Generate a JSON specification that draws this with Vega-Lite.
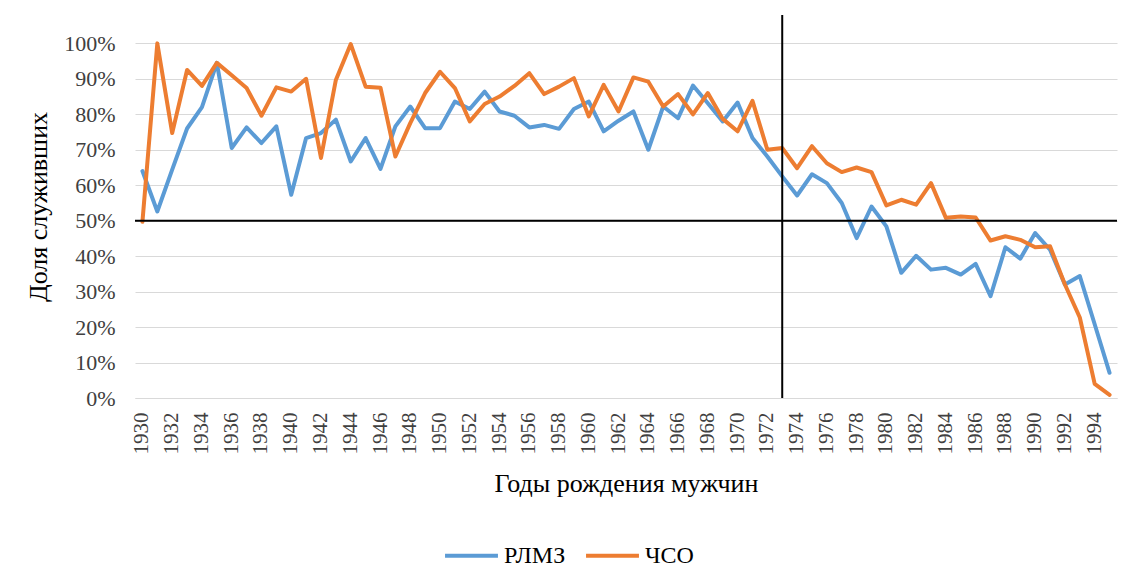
{
  "$schema": "https://vega.github.io/schema/vega-lite/v6.json",
  "width": 982,
  "height": 383,
  "autosize": {"type": "none"},
  "padding": {"left": 135, "top": 15, "right": 10, "bottom": 187},
  "background": "white",
  "config": {
    "font": "Liberation Serif",
    "view": {"stroke": null},
    "axis": {"labelFont": "Liberation Serif", "titleFont": "Liberation Serif", "labelColor": "#404040", "titleColor": "#000000", "titleFontWeight": "normal"},
    "legend": {"labelFont": "Liberation Serif"}
  },
  "datasets": {
    "main": [
      {"year": 1930, "series": "РЛМЗ", "value": 64.0}, {"year": 1931, "series": "РЛМЗ", "value": 52.6}, {"year": 1932, "series": "РЛМЗ", "value": 64.4}, {"year": 1933, "series": "РЛМЗ", "value": 76.0}, {"year": 1934, "series": "РЛМЗ", "value": 82.0}, {"year": 1935, "series": "РЛМЗ", "value": 94.5}, {"year": 1936, "series": "РЛМЗ", "value": 70.5}, {"year": 1937, "series": "РЛМЗ", "value": 76.3}, {"year": 1938, "series": "РЛМЗ", "value": 71.9}, {"year": 1939, "series": "РЛМЗ", "value": 76.6},
      {"year": 1940, "series": "РЛМЗ", "value": 57.3}, {"year": 1941, "series": "РЛМЗ", "value": 73.3}, {"year": 1942, "series": "РЛМЗ", "value": 74.7}, {"year": 1943, "series": "РЛМЗ", "value": 78.5}, {"year": 1944, "series": "РЛМЗ", "value": 66.7}, {"year": 1945, "series": "РЛМЗ", "value": 73.3}, {"year": 1946, "series": "РЛМЗ", "value": 64.6}, {"year": 1947, "series": "РЛМЗ", "value": 76.6}, {"year": 1948, "series": "РЛМЗ", "value": 82.2}, {"year": 1949, "series": "РЛМЗ", "value": 76.1},
      {"year": 1950, "series": "РЛМЗ", "value": 76.1}, {"year": 1951, "series": "РЛМЗ", "value": 83.6}, {"year": 1952, "series": "РЛМЗ", "value": 81.5}, {"year": 1953, "series": "РЛМЗ", "value": 86.4}, {"year": 1954, "series": "РЛМЗ", "value": 80.8}, {"year": 1955, "series": "РЛМЗ", "value": 79.6}, {"year": 1956, "series": "РЛМЗ", "value": 76.3}, {"year": 1957, "series": "РЛМЗ", "value": 77.0}, {"year": 1958, "series": "РЛМЗ", "value": 75.9}, {"year": 1959, "series": "РЛМЗ", "value": 81.5},
      {"year": 1960, "series": "РЛМЗ", "value": 83.6}, {"year": 1961, "series": "РЛМЗ", "value": 75.2}, {"year": 1962, "series": "РЛМЗ", "value": 78.2}, {"year": 1963, "series": "РЛМЗ", "value": 80.8}, {"year": 1964, "series": "РЛМЗ", "value": 70.0}, {"year": 1965, "series": "РЛМЗ", "value": 82.2}, {"year": 1966, "series": "РЛМЗ", "value": 78.9}, {"year": 1967, "series": "РЛМЗ", "value": 88.1}, {"year": 1968, "series": "РЛМЗ", "value": 83.1}, {"year": 1969, "series": "РЛМЗ", "value": 78.0},
      {"year": 1970, "series": "РЛМЗ", "value": 83.3}, {"year": 1971, "series": "РЛМЗ", "value": 73.3}, {"year": 1972, "series": "РЛМЗ", "value": 68.1}, {"year": 1973, "series": "РЛМЗ", "value": 62.5}, {"year": 1974, "series": "РЛМЗ", "value": 57.1}, {"year": 1975, "series": "РЛМЗ", "value": 63.1}, {"year": 1976, "series": "РЛМЗ", "value": 60.6}, {"year": 1977, "series": "РЛМЗ", "value": 55.0}, {"year": 1978, "series": "РЛМЗ", "value": 45.1}, {"year": 1979, "series": "РЛМЗ", "value": 54.0},
      {"year": 1980, "series": "РЛМЗ", "value": 48.4}, {"year": 1981, "series": "РЛМЗ", "value": 35.3}, {"year": 1982, "series": "РЛМЗ", "value": 40.1}, {"year": 1983, "series": "РЛМЗ", "value": 36.2}, {"year": 1984, "series": "РЛМЗ", "value": 36.7}, {"year": 1985, "series": "РЛМЗ", "value": 34.8}, {"year": 1986, "series": "РЛМЗ", "value": 37.8}, {"year": 1987, "series": "РЛМЗ", "value": 28.7}, {"year": 1988, "series": "РЛМЗ", "value": 42.5}, {"year": 1989, "series": "РЛМЗ", "value": 39.3},
      {"year": 1990, "series": "РЛМЗ", "value": 46.5}, {"year": 1991, "series": "РЛМЗ", "value": 41.8}, {"year": 1992, "series": "РЛМЗ", "value": 32.0}, {"year": 1993, "series": "РЛМЗ", "value": 34.4}, {"year": 1994, "series": "РЛМЗ", "value": 20.8}, {"year": 1995, "series": "РЛМЗ", "value": 7.1},
      {"year": 1930, "series": "ЧСО", "value": 49.7}, {"year": 1931, "series": "ЧСО", "value": 100.0}, {"year": 1932, "series": "ЧСО", "value": 74.7}, {"year": 1933, "series": "ЧСО", "value": 92.5}, {"year": 1934, "series": "ЧСО", "value": 88.0}, {"year": 1935, "series": "ЧСО", "value": 94.5}, {"year": 1936, "series": "ЧСО", "value": 91.0}, {"year": 1937, "series": "ЧСО", "value": 87.4}, {"year": 1938, "series": "ЧСО", "value": 79.6}, {"year": 1939, "series": "ЧСО", "value": 87.6},
      {"year": 1940, "series": "ЧСО", "value": 86.4}, {"year": 1941, "series": "ЧСО", "value": 90.0}, {"year": 1942, "series": "ЧСО", "value": 67.7}, {"year": 1943, "series": "ЧСО", "value": 89.7}, {"year": 1944, "series": "ЧСО", "value": 99.8}, {"year": 1945, "series": "ЧСО", "value": 87.8}, {"year": 1946, "series": "ЧСО", "value": 87.5}, {"year": 1947, "series": "ЧСО", "value": 68.1}, {"year": 1948, "series": "ЧСО", "value": 77.5}, {"year": 1949, "series": "ЧСО", "value": 86.0},
      {"year": 1950, "series": "ЧСО", "value": 92.0}, {"year": 1951, "series": "ЧСО", "value": 87.4}, {"year": 1952, "series": "ЧСО", "value": 78.0}, {"year": 1953, "series": "ЧСО", "value": 82.9}, {"year": 1954, "series": "ЧСО", "value": 85.0}, {"year": 1955, "series": "ЧСО", "value": 88.0}, {"year": 1956, "series": "ЧСО", "value": 91.6}, {"year": 1957, "series": "ЧСО", "value": 85.7}, {"year": 1958, "series": "ЧСО", "value": 87.8}, {"year": 1959, "series": "ЧСО", "value": 90.2},
      {"year": 1960, "series": "ЧСО", "value": 79.4}, {"year": 1961, "series": "ЧСО", "value": 88.3}, {"year": 1962, "series": "ЧСО", "value": 80.8}, {"year": 1963, "series": "ЧСО", "value": 90.4}, {"year": 1964, "series": "ЧСО", "value": 89.2}, {"year": 1965, "series": "ЧСО", "value": 82.2}, {"year": 1966, "series": "ЧСО", "value": 85.7}, {"year": 1967, "series": "ЧСО", "value": 80.0}, {"year": 1968, "series": "ЧСО", "value": 86.0}, {"year": 1969, "series": "ЧСО", "value": 78.7},
      {"year": 1970, "series": "ЧСО", "value": 75.2}, {"year": 1971, "series": "ЧСО", "value": 83.8}, {"year": 1972, "series": "ЧСО", "value": 70.0}, {"year": 1973, "series": "ЧСО", "value": 70.5}, {"year": 1974, "series": "ЧСО", "value": 64.8}, {"year": 1975, "series": "ЧСО", "value": 71.0}, {"year": 1976, "series": "ЧСО", "value": 66.2}, {"year": 1977, "series": "ЧСО", "value": 63.7}, {"year": 1978, "series": "ЧСО", "value": 65.0}, {"year": 1979, "series": "ЧСО", "value": 63.7},
      {"year": 1980, "series": "ЧСО", "value": 54.3}, {"year": 1981, "series": "ЧСО", "value": 55.9}, {"year": 1982, "series": "ЧСО", "value": 54.5}, {"year": 1983, "series": "ЧСО", "value": 60.6}, {"year": 1984, "series": "ЧСО", "value": 50.8}, {"year": 1985, "series": "ЧСО", "value": 51.2}, {"year": 1986, "series": "ЧСО", "value": 50.9}, {"year": 1987, "series": "ЧСО", "value": 44.4}, {"year": 1988, "series": "ЧСО", "value": 45.6}, {"year": 1989, "series": "ЧСО", "value": 44.6},
      {"year": 1990, "series": "ЧСО", "value": 42.5}, {"year": 1991, "series": "ЧСО", "value": 42.8}, {"year": 1992, "series": "ЧСО", "value": 32.0}, {"year": 1993, "series": "ЧСО", "value": 22.7}, {"year": 1994, "series": "ЧСО", "value": 4.0}, {"year": 1995, "series": "ЧСО", "value": 0.9}
    ]
  },
  "layer": [
    {
      "data": {"name": "main"},
      "transform": [{"filter": "datum.series === 'РЛМЗ'"}],
      "mark": {"type": "line", "strokeWidth": 4, "strokeJoin": "round", "strokeCap": "round"},
      "encoding": {
        "x": {
          "field": "year",
          "type": "ordinal",
          "title": "Годы рождения мужчин",
          "scale": {"paddingInner": 0, "paddingOuter": 0},
          "axis": {
            "values": [1930,1932,1934,1936,1938,1940,1942,1944,1946,1948,1950,1952,1954,1956,1958,1960,1962,1964,1966,1968,1970,1972,1974,1976,1978,1980,1982,1984,1986,1988,1990,1992,1994],
            "labelAngle": -90, "labelFontSize": 21, "labelPadding": 14, "labelBaseline": "middle", "labelOverlap": false,
            "ticks": false, "grid": false, "domainColor": "#d9d9d9", "titleFontSize": 26, "titlePadding": 16
          }
        },
        "y": {
          "field": "value",
          "type": "quantitative",
          "title": "Доля служивших",
          "scale": {"domain": [0, 108], "nice": false},
          "axis": {
            "values": [0,10,20,30,40,50,60,70,80,90,100],
            "labelExpr": "datum.value + '%'", "labelFontSize": 22, "labelPadding": 20, "labelOverlap": false,
            "ticks": false, "domain": false, "gridColor": "#d9d9d9", "gridWidth": 1, "titleFontSize": 26, "titlePadding": 12
          }
        },
        "color": {
          "field": "series",
          "type": "nominal",
          "scale": {"domain": ["РЛМЗ", "ЧСО"], "range": ["#5B9BD5", "#ED7D31"]},
          "legend": {
            "title": null, "orient": "none", "direction": "horizontal", "legendX": 308, "legendY": 512,
            "symbolType": "stroke", "symbolSize": 2800, "symbolStrokeWidth": 4,
            "labelFontSize": 24, "labelColor": "#000000", "labelOffset": 4, "columnPadding": 12
          }
        }
      }
    },
    {
      "data": {"name": "main"},
      "transform": [{"filter": "datum.series === 'ЧСО'"}],
      "mark": {"type": "line", "strokeWidth": 4, "strokeJoin": "round", "strokeCap": "round"},
      "encoding": {
        "x": {
          "field": "year",
          "type": "ordinal",
          "title": "Годы рождения мужчин",
          "axis": {
            "values": [1930,1932,1934,1936,1938,1940,1942,1944,1946,1948,1950,1952,1954,1956,1958,1960,1962,1964,1966,1968,1970,1972,1974,1976,1978,1980,1982,1984,1986,1988,1990,1992,1994],
            "labelAngle": -90, "labelFontSize": 21, "labelPadding": 14, "labelBaseline": "middle", "labelOverlap": false,
            "ticks": false, "grid": false, "domainColor": "#d9d9d9", "titleFontSize": 26, "titlePadding": 16
          }
        },
        "y": {
          "field": "value",
          "type": "quantitative",
          "title": "Доля служивших",
          "axis": {
            "values": [0,10,20,30,40,50,60,70,80,90,100],
            "labelExpr": "datum.value + '%'", "labelFontSize": 22, "labelPadding": 20, "labelOverlap": false,
            "ticks": false, "domain": false, "gridColor": "#d9d9d9", "gridWidth": 1, "titleFontSize": 26, "titlePadding": 12
          }
        },
        "color": {"field": "series", "type": "nominal"}
      }
    },
    {
      "data": {"values": [{"level": 50}]},
      "mark": {"type": "rule", "color": "#000000", "strokeWidth": 2},
      "encoding": {
        "y": {
          "field": "level",
          "type": "quantitative",
          "title": "Доля служивших",
          "axis": {
            "values": [0,10,20,30,40,50,60,70,80,90,100],
            "labelExpr": "datum.value + '%'", "labelFontSize": 22, "labelPadding": 20, "labelOverlap": false,
            "ticks": false, "domain": false, "gridColor": "#d9d9d9", "gridWidth": 1, "titleFontSize": 26, "titlePadding": 12
          }
        }
      }
    },
    {
      "data": {"values": [{"yr": 1973}]},
      "mark": {"type": "rule", "color": "#000000", "strokeWidth": 2},
      "encoding": {
        "x": {
          "field": "yr",
          "type": "ordinal",
          "title": "Годы рождения мужчин",
          "axis": {
            "values": [1930,1932,1934,1936,1938,1940,1942,1944,1946,1948,1950,1952,1954,1956,1958,1960,1962,1964,1966,1968,1970,1972,1974,1976,1978,1980,1982,1984,1986,1988,1990,1992,1994],
            "labelAngle": -90, "labelFontSize": 21, "labelPadding": 14, "labelBaseline": "middle", "labelOverlap": false,
            "ticks": false, "grid": false, "domainColor": "#d9d9d9", "titleFontSize": 26, "titlePadding": 16
          }
        }
      }
    }
  ]
}
